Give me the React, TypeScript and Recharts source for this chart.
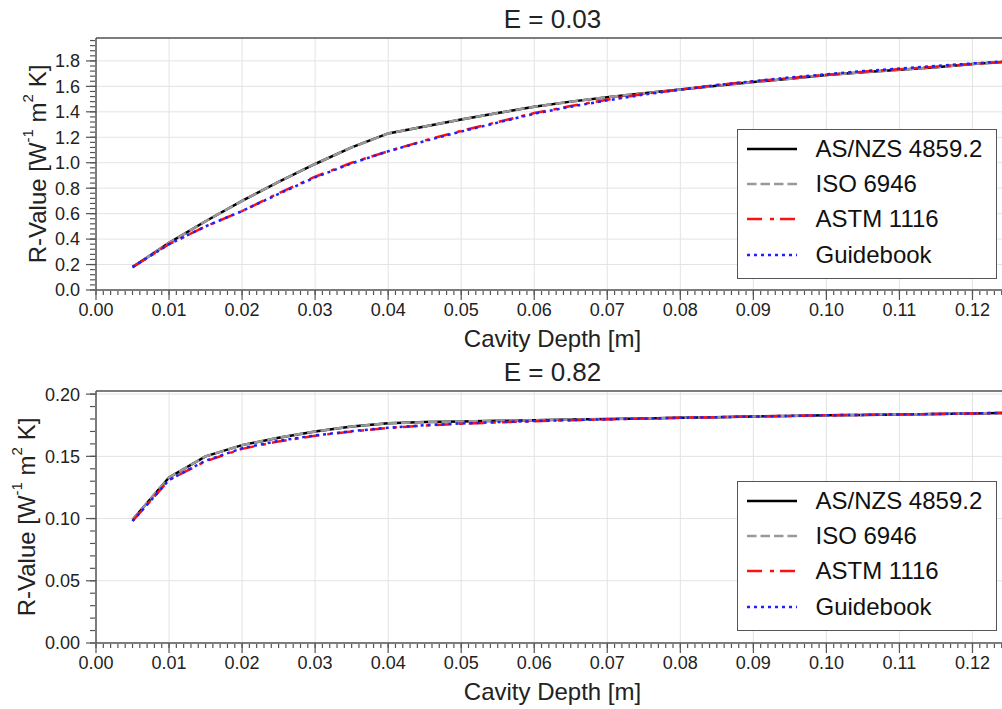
import { LineChart, Line, XAxis, YAxis, CartesianGrid, Legend } from 'recharts';

const FONT = '"Liberation Sans", Arial, Helvetica, sans-serif';

// cavity depth [m]
const depths = [
  0.005, 0.01, 0.015, 0.02, 0.025, 0.03, 0.035, 0.04, 0.045, 0.05, 0.055, 0.06, 0.065,
  0.07, 0.075, 0.08, 0.085, 0.09, 0.095, 0.1, 0.105, 0.11, 0.115, 0.12, 0.125,
];

// E = 0.03
const lowAsnzs = [
  0.18, 0.37, 0.54, 0.7, 0.85, 0.99, 1.12, 1.23, 1.285, 1.34, 1.39, 1.44, 1.48,
  1.515, 1.545, 1.575, 1.605, 1.635, 1.66, 1.69, 1.71, 1.73, 1.75, 1.775, 1.795,
];
const lowIso = [
  0.18, 0.37, 0.54, 0.7, 0.85, 0.99, 1.12, 1.23, 1.285, 1.34, 1.39, 1.44, 1.48,
  1.515, 1.545, 1.575, 1.605, 1.635, 1.66, 1.69, 1.71, 1.73, 1.75, 1.775, 1.795,
];
const lowAstm = [
  0.18, 0.36, 0.5, 0.62, 0.76, 0.89, 1.0, 1.09, 1.175, 1.25, 1.32, 1.39, 1.445,
  1.495, 1.54, 1.575, 1.61, 1.64, 1.665, 1.69, 1.715, 1.735, 1.755, 1.775, 1.795,
];
const lowGuide = [
  0.18, 0.36, 0.5, 0.62, 0.755, 0.885, 0.995, 1.09, 1.17, 1.245, 1.315, 1.385, 1.44,
  1.49, 1.535, 1.575, 1.61, 1.64, 1.67, 1.695, 1.72, 1.74, 1.76, 1.78, 1.8,
];

// E = 0.82
const highAsnzs = [
  0.099, 0.133, 0.15, 0.159, 0.165, 0.17, 0.174, 0.1765, 0.1775, 0.178, 0.1785, 0.179, 0.1795,
  0.18, 0.1805, 0.181, 0.1815, 0.182, 0.1825, 0.183, 0.1833, 0.1837, 0.184, 0.1845, 0.185,
];
const highIso = [
  0.099, 0.133, 0.15, 0.159, 0.165, 0.17, 0.174, 0.1765, 0.1775, 0.178, 0.1785, 0.179, 0.1795,
  0.18, 0.1805, 0.181, 0.1815, 0.182, 0.1825, 0.183, 0.1833, 0.1837, 0.184, 0.1845, 0.185,
];
const highAstm = [
  0.098, 0.131, 0.146, 0.156, 0.162, 0.1665, 0.17, 0.1728, 0.1748, 0.1762, 0.1773, 0.1782, 0.179,
  0.1797, 0.1803, 0.181, 0.1815, 0.182, 0.1825, 0.183, 0.1833, 0.1837, 0.184, 0.1845, 0.185,
];
const highGuide = [
  0.098, 0.131, 0.1465, 0.1565, 0.1625, 0.1668, 0.1702, 0.173, 0.175, 0.1764, 0.1775, 0.1784, 0.1791,
  0.1798, 0.1804, 0.181, 0.1815, 0.182, 0.1825, 0.183, 0.1833, 0.1837, 0.184, 0.1845, 0.185,
];

const xTicks = [0, 0.01, 0.02, 0.03, 0.04, 0.05, 0.06, 0.07, 0.08, 0.09, 0.1, 0.11, 0.12];
const lowYTicks = [0, 0.2, 0.4, 0.6, 0.8, 1.0, 1.2, 1.4, 1.6, 1.8];
const highYTicks = [0, 0.05, 0.1, 0.15, 0.2];

const series = [
  { key: 'asnzs', name: 'AS/NZS 4859.2', color: '#000000', dash: undefined as string | undefined },
  { key: 'iso', name: 'ISO 6946', color: '#999999', dash: '9.5 4' },
  { key: 'astm', name: 'ASTM 1116', color: '#ff1010', dash: '15 8 4 6' },
  { key: 'guide', name: 'Guidebook', color: '#1f1fff', dash: '3 4' },
];

const X_MAX = 0.125;

function minorTicks(max: number, step: number) {
  const out: number[] = [];
  for (let i = 0; i * step <= max + 1e-9; i++) out.push(Number((i * step).toFixed(4)));
  return out;
}

const lowRows = depths.map((x, i) => ({
  x, asnzs: lowAsnzs[i], iso: lowIso[i], astm: lowAstm[i], guide: lowGuide[i],
}));
const highRows = depths.map((x, i) => ({
  x, asnzs: highAsnzs[i], iso: highIso[i], astm: highAstm[i], guide: highGuide[i],
}));

const axisLine = { stroke: '#555', strokeWidth: 1.5 };
const tickLine = { stroke: '#555', strokeWidth: 1.2 };

// minor axes draw tick marks only
const noLabel = () => <g />;

function makeYLabel(cx: number) {
  return (props: any) => {
    const vb = props && props.viewBox;
    const cy = vb ? vb.y + vb.height / 2 : 164;
    return (
      <text
        x={cx}
        y={cy}
        transform={`rotate(-90, ${cx}, ${cy})`}
        textAnchor="middle"
        dominantBaseline="central"
        fontSize={24}
        fill="#222"
      >
        R-Value [W<tspan dy={-10} fontSize={15}>-1</tspan>
        <tspan dy={10}> m</tspan>
        <tspan dy={-10} fontSize={15}>2</tspan>
        <tspan dy={10}> K]</tspan>
      </text>
    );
  };
}

function LegendBox() {
  return (
    <div
      style={{
        width: 260,
        height: 150,
        boxSizing: 'border-box',
        border: '1.5px solid #555',
        background: '#fff',
        paddingTop: 1,
        fontFamily: FONT,
      }}
    >
      {series.map((s) => (
        <div key={s.key} style={{ display: 'flex', alignItems: 'center', height: 35.3 }}>
          <svg width={69} height={10} style={{ marginLeft: 8.5, flex: 'none' }}>
            <line x1={0} x2={50} y1={5} y2={5} stroke={s.color} strokeWidth={2.5} strokeDasharray={s.dash} />
          </svg>
          <span style={{ fontSize: 24, color: '#111', whiteSpace: 'nowrap' }}>{s.name}</span>
        </div>
      ))}
    </div>
  );
}

interface PanelProps {
  title: string;
  rows: any[];
  yMax: number;
  yTicks: number[];
  yMinorStep: number;
  yDigits: number;
  legendTop: number;
  labelX: number;
}

function Panel({ title, rows, yMax, yTicks, yMinorStep, yDigits, legendTop, labelX }: PanelProps) {
  return (
    <LineChart width={1009} height={354} data={rows} margin={{ top: 37, right: 0, bottom: 62, left: 94 }}>
      <CartesianGrid stroke="#e3e3e3" strokeWidth={1} />
      <XAxis
        xAxisId={0}
        type="number"
        dataKey="x"
        domain={[0, X_MAX]}
        allowDataOverflow
        ticks={xTicks}
        interval={0}
        height={1}
        tickSize={10}
        tickMargin={3}
        axisLine={axisLine}
        tickLine={tickLine}
        tick={{ fontSize: 18, fill: '#222' }}
        tickFormatter={(v: number) => v.toFixed(2)}
        label={{ value: 'Cavity Depth [m]', position: 'bottom', offset: 39, fontSize: 24, fill: '#222' }}
      />
      <XAxis
        xAxisId="minor"
        type="number"
        dataKey="x"
        domain={[0, X_MAX]}
        allowDataOverflow
        ticks={minorTicks(X_MAX, 0.001)}
        interval={0}
        height={1}
        tickSize={4}
        tick={noLabel}
        axisLine={false}
        tickLine={tickLine}
      />
      <XAxis
        xAxisId="top"
        orientation="top"
        type="number"
        dataKey="x"
        domain={[0, X_MAX]}
        allowDataOverflow
        ticks={xTicks}
        height={1}
        tick={false}
        tickLine={false}
        axisLine={axisLine}
        label={{ value: title, position: 'top', offset: 9, fontSize: 26, fill: '#222' }}
      />
      <YAxis
        yAxisId={0}
        type="number"
        domain={[0, yMax]}
        allowDataOverflow
        ticks={yTicks}
        interval={0}
        width={1}
        tickSize={10}
        tickMargin={6}
        axisLine={axisLine}
        tickLine={tickLine}
        tick={{ fontSize: 18, fill: '#222' }}
        tickFormatter={(v: number) => v.toFixed(yDigits)}
        label={makeYLabel(labelX)}
      />
      <YAxis
        yAxisId="minor"
        type="number"
        domain={[0, yMax]}
        allowDataOverflow
        ticks={minorTicks(yMax, yMinorStep)}
        interval={0}
        width={1}
        tickSize={5}
        tick={noLabel}
        axisLine={false}
        tickLine={tickLine}
      />
      {series.map((s) => (
        <Line
          key={s.key}
          type="linear"
          dataKey={s.key}
          name={s.name}
          stroke={s.color}
          strokeWidth={2.5}
          strokeDasharray={s.dash}
          dot={false}
          activeDot={false}
          isAnimationActive={false}
        />
      ))}
      <Legend
        layout="vertical"
        align="center"
        verticalAlign="middle"
        content={() => <LegendBox />}
        wrapperStyle={{ left: 737, top: legendTop, width: 'auto', height: 'auto' }}
      />
    </LineChart>
  );
}

export default function App() {
  return (
    <div
      style={{
        position: 'absolute',
        left: 0,
        top: 0,
        width: 1002,
        height: 709,
        overflow: 'hidden',
        background: '#fff',
        fontFamily: FONT,
      }}
    >
      <div style={{ position: 'absolute', left: 0, top: 0 }}>
        <Panel title="E = 0.03" rows={lowRows} yMax={1.98} yTicks={lowYTicks} yMinorStep={0.04} yDigits={1} legendTop={129} labelX={37} />
      </div>
      <div style={{ position: 'absolute', left: 0, top: 353 }}>
        <Panel title="E = 0.82" rows={highRows} yMax={0.2025} yTicks={highYTicks} yMinorStep={0.01} yDigits={2} legendTop={128} labelX={26} />
      </div>
    </div>
  );
}
